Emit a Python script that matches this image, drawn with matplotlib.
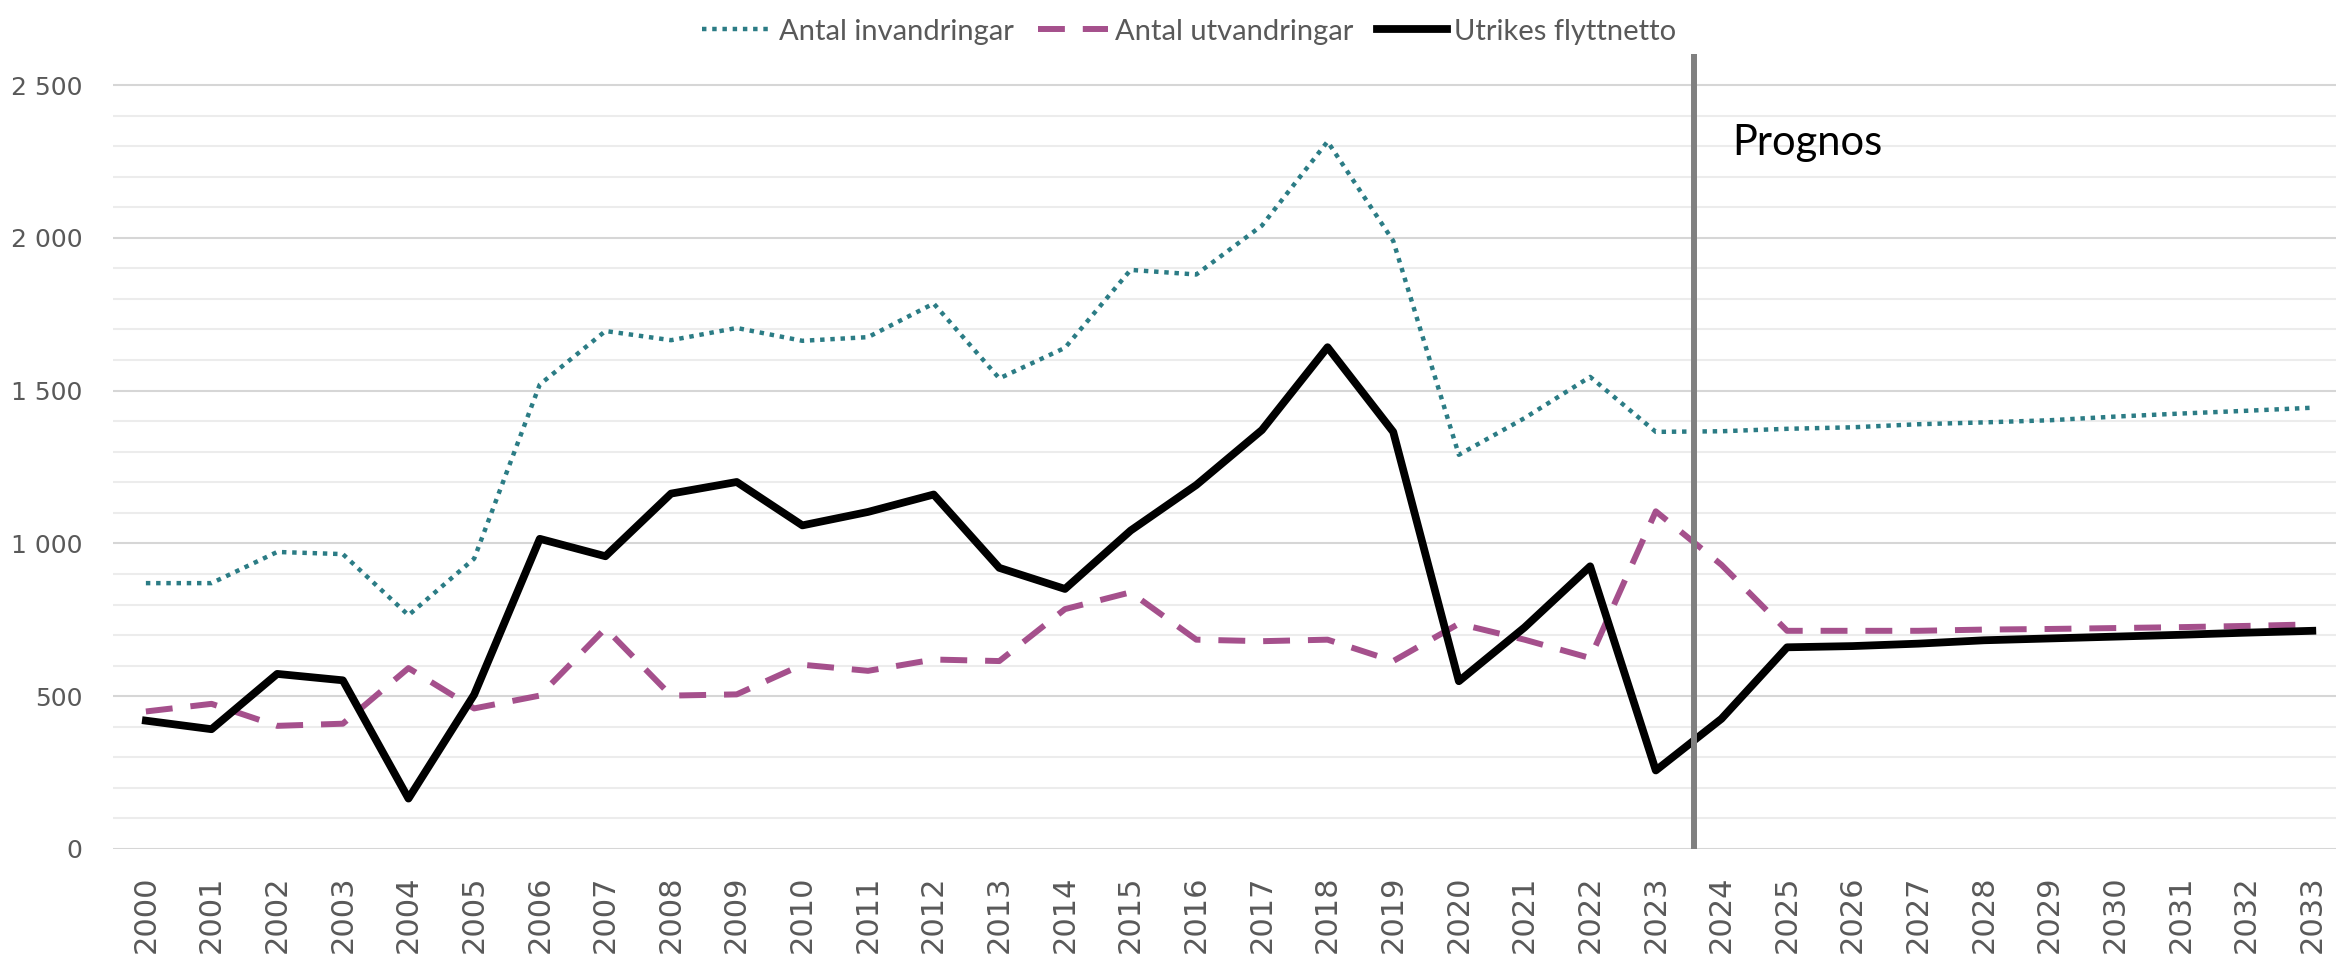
import matplotlib
matplotlib.use("Agg")
from matplotlib import pyplot as plt
from matplotlib.ticker import FixedLocator, FuncFormatter
import numpy as np

# data
years = list(range(2000, 2034))
invandringar = [870, 870, 972, 965, 765, 950, 1520, 1695, 1665, 1705, 1663, 1675,
                1785, 1540, 1640, 1895, 1880, 2040, 2315, 1990, 1290, 1410, 1545, 1365,
                1367, 1375, 1380, 1390, 1396, 1403, 1415, 1425, 1434, 1444]
utvandringar = [450, 475, 403, 410, 592, 460, 502, 722, 502, 506, 603, 583,
                620, 615, 785, 840, 685, 680, 685, 615, 737, 685, 625, 1105,
                930, 714, 714, 714, 718, 720, 723, 726, 730, 735]
flyttnetto = [420, 392, 573, 552, 165, 505, 1015, 958, 1163, 1201, 1059, 1103,
              1160, 920, 851, 1042, 1191, 1371, 1642, 1365, 549, 725, 925, 257,
              426, 660, 664, 672, 683, 689, 695, 701, 708, 714]
serie_namn = ["Antal invandringar", "Antal utvandringar", "Utrikes flyttnetto"]
prognos_start = 23.58

x = np.arange(len(years))

fig = plt.figure(figsize=(23.36, 9.64), dpi=100)
ax = fig.add_axes([0.0484, 0.1193, 0.9555, 0.8242])

# gridlines
ax.set_ylim(0, 2600)
ax.set_xlim(-0.5, len(years) - 0.5)
ax.yaxis.set_major_locator(FixedLocator(np.arange(0, 2501, 500)))
ax.yaxis.set_minor_locator(FixedLocator(np.arange(0, 2501, 100)))
ax.grid(axis="y", which="major", color="#D6D6D6", linewidth=1.5)
ax.grid(axis="y", which="minor", color="#ECECEC", linewidth=1.5)
ax.set_axisbelow(True)
for s in ax.spines.values():
    s.set_visible(False)

ax.plot(x, invandringar, color="#2B7C85", linewidth=3.2, linestyle=(0, (1, 1.3)),
        dash_capstyle="butt", label=serie_namn[0])
ax.plot(x, utvandringar, color="#A5508C", linewidth=4.3, linestyle=(0, (4.5, 3)),
        dash_capstyle="butt", label=serie_namn[1])
ax.plot(x, flyttnetto, color="black", linewidth=5.6, label=serie_namn[2])

ax.axvline(prognos_start, color="#808080", linewidth=4.3, ymin=0, ymax=1)
ax.text(24.17, 2271, "Prognos", fontsize=30, family=["Lato", "DejaVu Sans"],
        color="black", va="baseline", ha="left")

# ticks
ax.set_xticks(x)
ax.set_xticklabels([str(y) for y in years], rotation=90, fontsize=22,
                   color="#595959", va="top", ha="center")
ax.yaxis.set_major_formatter(FuncFormatter(lambda v, p: f"{int(v):,}".replace(",", " ")))
ax.tick_params(axis="y", which="both", length=0, labelsize=18, labelcolor="#595959", pad=22)
ax.tick_params(axis="x", length=0, pad=19)

fig.legend(loc="upper center", bbox_to_anchor=(0.509, 1.008), ncol=3, frameon=False,
           prop={"family": ["Lato", "DejaVu Sans"], "size": 21}, labelcolor="#595959",
           handlelength=2.4, handletextpad=0.25, columnspacing=0.8)

fig.savefig("out.png", dpi=100)
